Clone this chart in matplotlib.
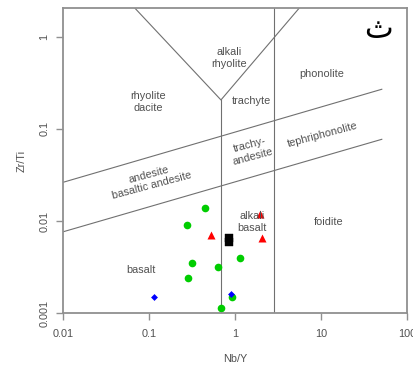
import numpy as np
from matplotlib import pyplot as plt

# sample groups (Nb/Y, Zr/Ti)
green_nby = [0.448, 0.272, 0.314, 0.624, 0.284, 1.125, 0.908, 0.676]
green_zrti = [0.0139, 0.0090, 0.00354, 0.00318, 0.00243, 0.00395, 0.00149, 0.00115]
red_nby = [0.518, 1.92, 2.06]
red_zrti = [0.00706, 0.0120, 0.00657]
black_nby = [0.851, 0.851]
black_zrti = [0.0066, 0.0059]
blue_nby = [0.114, 0.885]
blue_zrti = [0.00150, 0.00161]

# field boundaries
vertex = (0.68, 0.206)
v_left_top = 0.0682
v_right_top = 5.5
phon_line_x = 2.82
upper_x = [0.01, 50.4]
upper_y = [0.0264, 0.269]
lower_x = [0.01, 50.4]
lower_y = [0.00767, 0.0771]

xticks = [0.01, 0.1, 1, 10, 100]
xticklabels = ['0.01', '0.1', '1', '10', '100']
yticks = [0.001, 0.01, 0.1, 1]
yticklabels = ['0.001', '0.01', '0.1', '1']

XMIN, XMAX = 0.01, 100
YMIN, YMAX = 0.001, 2.03

plt.rcParams['font.family'] = ['Liberation Sans', 'DejaVu Sans']

fig = plt.figure(figsize=(4.14, 3.65), dpi=100)
ax = fig.add_axes([0.153, 0.1416, 0.831, 0.8356])
ax.set_xscale('log')
ax.set_yscale('log')
ax.set_xlim(XMIN, XMAX)
ax.set_ylim(YMIN, YMAX)

lc = '#707070'
lw = 0.8
ax.plot([vertex[0], vertex[0]], [YMIN, vertex[1]], color=lc, lw=lw)
ax.plot([v_left_top, vertex[0], v_right_top], [YMAX, vertex[1], YMAX], color=lc, lw=lw)
ax.plot([phon_line_x, phon_line_x], [YMIN, YMAX], color=lc, lw=lw)
ax.plot(upper_x, upper_y, color=lc, lw=lw)
ax.plot(lower_x, lower_y, color=lc, lw=lw)

tc = '#505050'
fs = 7.8
ax.text(0.0966, 0.196, 'rhyolite\ndacite', ha='center', va='center', fontsize=fs, color=tc)
ax.text(0.845, 0.588, 'alkali\nrhyolite', ha='center', va='center', fontsize=fs, color=tc)
ax.text(10.2, 0.394, 'phonolite', ha='center', va='center', fontsize=fs, color=tc)
ax.text(1.52, 0.201, 'trachyte', ha='center', va='center', fontsize=fs, color=tc)
ax.text(1.52, 0.0577, 'trachy-\nandesite', ha='center', va='center', fontsize=fs,
        color=tc, rotation=15, rotation_mode='anchor')
ax.text(10.2, 0.0859, 'tephriphonolite', ha='center', va='center', fontsize=fs,
        color=tc, rotation=15, rotation_mode='anchor')
ax.text(0.102, 0.0279, 'andesite\nbasaltic andesite', ha='center', va='center',
        fontsize=fs, color=tc, rotation=15, rotation_mode='anchor')
ax.text(1.56, 0.00977, 'alkali\nbasalt', ha='center', va='center', fontsize=fs, color=tc)
ax.text(12.0, 0.00977, 'foidite', ha='center', va='center', fontsize=fs, color=tc)
ax.text(0.080, 0.00295, 'basalt', ha='center', va='center', fontsize=fs, color=tc)

ax.plot(green_nby, green_zrti, 'o', color='#00CD00', ms=5.5, mec='none')
ax.plot(red_nby, red_zrti, '^', color='#FF0000', ms=6, mec='none')
ax.plot(black_nby, black_zrti, 's', color='black', ms=5.2, mec='black', mew=0.3)
ax.plot(blue_nby, blue_zrti, 'D', color='#0000FF', ms=3.5, mec='none')

ax.text(0.915, 0.93, 'ث', transform=ax.transAxes, ha='center', va='center',
        fontsize=22, color='black', family=['DejaVu Sans'])

ax.set_xticks(xticks)
ax.set_xticklabels(xticklabels)
ax.set_yticks(yticks)
ax.set_yticklabels(yticklabels, rotation=90, va='center')
ax.minorticks_off()
ax.tick_params(axis='both', direction='out', length=5, width=1, color='#909090',
               labelsize=7.8, labelcolor='#505050', pad=6)
ax.tick_params(axis='y', pad=5)
for s in ax.spines.values():
    s.set_color('#909090')
    s.set_linewidth(1.3)

ax.set_xlabel('Nb/Y', fontsize=7.8, color='#505050', labelpad=11)
ax.set_ylabel('Zr/Ti', fontsize=7.8, color='#505050', labelpad=9)

fig.savefig('out.png', dpi=100)
